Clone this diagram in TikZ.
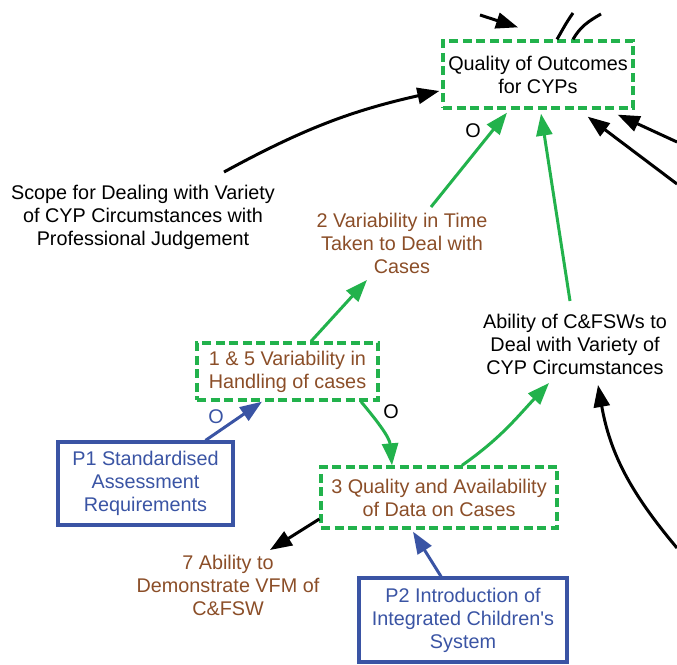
\documentclass[tikz,border=0pt]{standalone}
\usepackage{fontspec}
\setmainfont{Liberation Sans}
\newfontfamily\plainsans{Liberation Sans}
\usetikzlibrary{arrows.meta}
\definecolor{cldgreen}{RGB}{34,178,76}
\definecolor{cldbrown}{RGB}{139,78,40}
\definecolor{cldblue}{RGB}{58,84,164}
\begin{document}
\begin{tikzpicture}[x=1pt,y=1pt,
  every node/.style={font=\fontsize{19.8}{23}\selectfont, align=center, inner sep=0pt},
  dbox/.style={draw=cldgreen, line width=3.3pt, dash pattern=on 9pt off 4.5pt},
  pbox/.style={draw=cldblue, line width=3.2pt, text=cldblue},
  blk/.style={line width=3pt, -{Triangle[length=22pt,width=16pt]}},
  grn/.style={blk, draw=cldgreen},
  blu/.style={blk, draw=cldblue},
  plain/.style={line width=3pt}
]
\useasboundingbox (0,0) rectangle (677,664);

% nodes
\node[dbox, minimum width=190pt, minimum height=67pt] (Q) at (538,589.5) {Quality of Outcomes\\for CYPs};
\node (scope) at (143,447) {Scope for Dealing with Variety\\of CYP Circumstances with\\Professional Judgement};
\node[text=cldbrown] (var2) at (402,421) {2 Variability in Time\\Taken to Deal with\\Cases};
\node[dbox, text=cldbrown, minimum width=181pt, minimum height=57pt] (v15) at (287.5,292.5) {1 \& 5 Variability in\\Handling of cases};
\node[pbox, minimum width=175pt, minimum height=83pt] (P1) at (145.5,180.5) {P1 Standardised\\Assessment\\Requirements};
\node[dbox, text=cldbrown, minimum width=236pt, minimum height=61pt] (d3) at (439,166.5) {3 Quality and Availability\\of Data on Cases};
\node (abil) at (575,320) {Ability of C\&FSWs to\\Deal with Variety of\\CYP Circumstances};
\node[pbox, minimum width=208pt, minimum height=84pt] (P2) at (463,44) {P2 Introduction of\\Integrated Children{\plainsans '}s\\System};
\node[text=cldbrown] (vfm) at (228,79) {7 Ability to\\Demonstrate VFM of\\C\&FSW};

% labels
\node (o1) at (473,533) {O};
\node[text=cldblue] (o2) at (216,247) {O};
\node (o3) at (391,252) {O};

% free ends
\coordinate (r1) at (677,522);
\coordinate (r2) at (677,480);
\coordinate (r3) at (677,116);
\coordinate (t1) at (480,649);
\coordinate (t2) at (573,651);
\coordinate (t3) at (601,650);

% connectors
\draw[blk] ([shift={(81,45)}]scope.center) to[bend left=8] ([shift={(-2,-16.5)}]Q.west);
\draw[grn] ([shift={(29,36)}]var2.center) -- ([shift={(-31,-3)}]Q.south);
\draw[grn] ([shift={(-5,43)}]abil.center) -- ([shift={(3,-4)}]Q.south);
\draw[grn] ([xshift=23.5]v15.north) -- ([shift={(-35,-37)}]var2.center);
\draw[blu] ([xshift=60]P1.north) -- ([xshift=-25.5]v15.south);
\draw[grn] ([xshift=73.5]v15.south) to[out=-50,in=95] ([xshift=-47]d3.north);
\draw[grn] ([xshift=23]d3.north) to[out=35,in=227] ([shift={(-26,-39)}]abil.center);
\draw[blu] ([xshift=-22]P2.north) -- ([shift={(-26,-2)}]d3.south);
\draw[blk] ([yshift=-21.5]d3.west) -- ([shift={(42,35)}]vfm.center);
\draw[blk] (r3) to[out=130,in=280] ([shift={(23,-41)}]abil.center);
\draw[blk] (r1) -- ([shift={(-17,-5)}]Q.south east);
\draw[blk] (r2) -- ([shift={(-47,-7)}]Q.south east);
\draw[blk] (t1) -- ([shift={(-20,12)}]Q.north);
\draw[plain] ([xshift=19]Q.north) to[out=60,in=235] (t2);
\draw[plain] ([xshift=35]Q.north) to[out=60,in=210] (t3);
\end{tikzpicture}
\end{document}
